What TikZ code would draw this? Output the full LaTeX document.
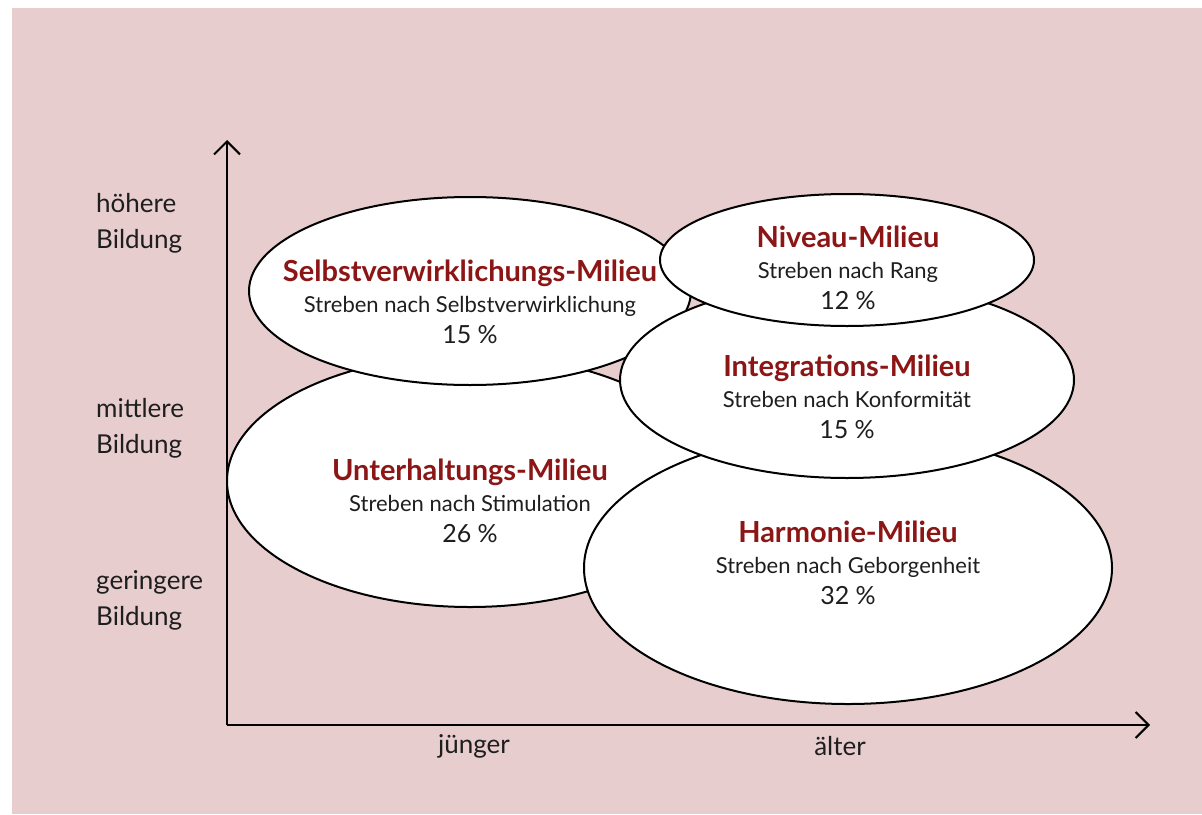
\documentclass[tikz,border=0pt]{standalone}
\usepackage{fontspec}
\setmainfont{Lato}
\usepackage{tikz}
\usetikzlibrary{shapes.geometric, arrows.meta}
\usepackage{xcolor}
\definecolor{bgpink}{RGB}{232,205,206}
\definecolor{milieured}{RGB}{140,21,21}
\definecolor{textdark}{RGB}{30,30,30}

\newcommand{\milieutext}[3]{%
  {\fontsize{29}{31}\selectfont\bfseries\color{milieured}#1}\\
  {\fontsize{22}{31}\selectfont #2}\\
  {\fontsize{25}{31}\selectfont #3}}

\begin{document}
\begin{tikzpicture}[x=1pt, y=-1pt,
    milieu/.style={ellipse, draw, line width=2pt, fill=white, inner sep=0pt},
    milieulabel/.style={align=center, text=textdark, inner sep=0pt, font=\fontsize{22}{31}\selectfont},
    axislabel/.style={align=left, text=textdark, inner sep=0pt, font=\fontsize{26}{36}\selectfont},
    axis/.style={line width=2pt, -{Straight Barb[length=13pt, width=26pt, line width=2pt]}}]

    % Background
    \useasboundingbox (0,0) rectangle (1202,814);
    \fill[bgpink] (12,8) rectangle (1202,814);

    % Coordinates for the axes
    \coordinate (O) at (227,725);
    \coordinate (Ytip) at (227,140);
    \coordinate (Xtip) at (1150,725);

    % Draw the axes
    \draw[axis] (O) -- (Ytip);
    \draw[axis] (O) -- (Xtip);

    % Draw the milieus (back to front)
    \node[milieu, minimum width=486, minimum height=252] (unterhaltung) at (470,481) {};
    \node[milieu, minimum width=442, minimum height=188] (selbst) at (470,291) {};
    \node[milieu, minimum width=528, minimum height=272] (harmonie) at (848,568) {};
    \node[milieu, minimum width=454, minimum height=196] (integration) at (847,380) {};
    \node[milieu, minimum width=374, minimum height=132] (niveau) at (847,260) {};

    % Milieu texts
    \node[milieulabel] (unterhaltung-txt) at (470,501) {\milieutext{Unterhaltungs-Milieu}{Streben nach Stimulation}{26 \%}};
    \node[milieulabel] (selbst-txt) at (470,302) {\milieutext{Selbstverwirklichungs-Milieu}{Streben nach Selbstverwirklichung}{15 \%}};
    \node[milieulabel] (harmonie-txt) at (848,563) {\milieutext{Harmonie-Milieu}{Streben nach Geborgenheit}{32 \%}};
    \node[milieulabel] (integration-txt) at (847,397) {\milieutext{Integrations-Milieu}{Streben nach Konformität}{15 \%}};
    \node[milieulabel] (niveau-txt) at (848,268) {\milieutext{Niveau-Milieu}{Streben nach Rang}{12 \%}};

    % Axis labels
    \node[axislabel, anchor=west] (hoch) at (96,223) {höhere\\Bildung};
    \node[axislabel, anchor=west] (mittel) at (96,428) {mittlere\\Bildung};
    \node[axislabel, anchor=west] (gering) at (96,600) {geringere\\Bildung};
    \node[axislabel] (jung) at (474,746) {jünger};
    \node[axislabel] (alt) at (840,746) {älter};

\end{tikzpicture}
\end{document}
